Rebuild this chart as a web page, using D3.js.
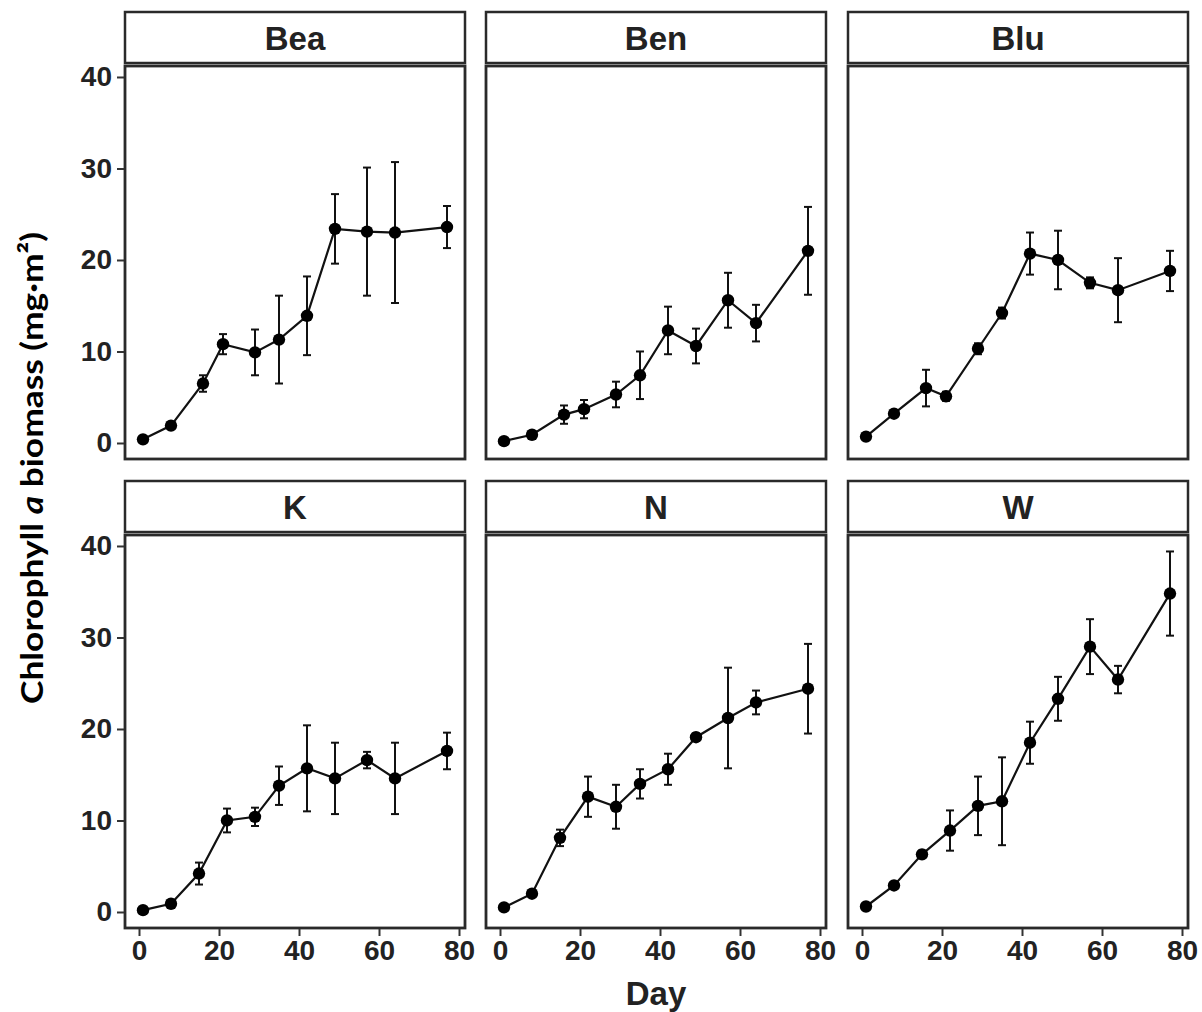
<!DOCTYPE html>
<html>
<head>
<meta charset="utf-8">
<script src="https://cdn.jsdelivr.net/npm/d3@7"></script>
<style>
	body { margin: 0; background: #fff; }
	svg { display: block; }
	.tick text { font-family: "Liberation Sans", Arial, sans-serif; font-weight: bold; font-size: 28px; fill: #222; }
	.tick line { stroke: #333; stroke-width: 2; }
</style>
</head>
<body>
<div id="chart"></div>
<script>
///////////////////////////////////////////////////////////////////////////
//////////////////////////// data /////////////////////////////////////////
///////////////////////////////////////////////////////////////////////////

const sites = ["Bea", "Ben", "Blu", "K", "N", "W"];

// sampling days (top row sites sampled day 16/21, bottom row day 15/22)
const daysTop = [1, 8, 16, 21, 29, 35, 42, 49, 57, 64, 77];
const daysBottom = [1, 8, 15, 22, 29, 35, 42, 49, 57, 64, 77];

// mean chlorophyll a (mg m-2)
const meanBea = [0.4, 1.9, 6.5, 10.8, 9.9, 11.3, 13.9, 23.4, 23.1, 23.0, 23.6];
const meanBen = [0.2, 0.9, 3.1, 3.7, 5.3, 7.4, 12.3, 10.6, 15.6, 13.1, 21.0];
const meanBlu = [0.7, 3.2, 6.0, 5.1, 10.3, 14.2, 20.7, 20.0, 17.5, 16.7, 18.8];
const meanK = [0.2, 0.9, 4.2, 10.0, 10.4, 13.8, 15.7, 14.6, 16.6, 14.6, 17.6];
const meanN = [0.5, 2.0, 8.1, 12.6, 11.5, 14.0, 15.6, 19.1, 21.2, 22.9, 24.4];
const meanW = [0.6, 2.9, 6.3, 8.9, 11.6, 12.1, 18.5, 23.3, 29.0, 25.4, 34.8];

// error bar half widths
const errBea = [0.2, 0.3, 0.9, 1.1, 2.5, 4.8, 4.3, 3.8, 7.0, 7.7, 2.3];
const errBen = [0.1, 0.2, 1.0, 1.0, 1.4, 2.6, 2.6, 1.9, 3.0, 2.0, 4.8];
const errBlu = [0.2, 0.3, 2.0, 0.5, 0.6, 0.6, 2.3, 3.2, 0.6, 3.5, 2.2];
const errK = [0.1, 0.2, 1.2, 1.3, 1.0, 2.1, 4.7, 3.9, 0.9, 3.9, 2.0];
const errN = [0.1, 0.2, 0.9, 2.2, 2.4, 1.6, 1.7, 0.4, 5.5, 1.3, 4.9];
const errW = [0.2, 0.3, 0.4, 2.2, 3.2, 4.8, 2.3, 2.4, 3.0, 1.5, 4.6];

const xTicks = [0, 20, 40, 60, 80];
const yTicks = [0, 10, 20, 30, 40];

const means = [meanBea, meanBen, meanBlu, meanK, meanN, meanW];
const errs = [errBea, errBen, errBlu, errK, errN, errW];

///////////////////////////////////////////////////////////////////////////
//////////////////////////// Set up svg ///////////////////////////////////
///////////////////////////////////////////////////////////////////////////

const width = 1202;
const height = 1012;
const svg = d3.select("#chart")
	.append("svg")
	.attr("width", width)
	.attr("height", height);

const colLeft = [125, 486, 848];
const panelW = 340;
const rows = [
	{ stripTop: 12, stripBottom: 63, top: 66, bottom: 459 },
	{ stripTop: 481, stripBottom: 532, top: 535, bottom: 928 }
];
const border = "#2a2a2a";

///////////////////////////////////////////////////////////////////////////
//////////////////////////// panels ///////////////////////////////////////
///////////////////////////////////////////////////////////////////////////

sites.forEach((site, i) => {
	const col = i % 3;
	const row = Math.floor(i / 3);
	const r = rows[row];
	const x0 = colLeft[col];
	const days = row === 0 ? daysTop : daysBottom;
	const data = days.map((d, j) => ({ day: d, mean: means[i][j], err: errs[i][j] }));

	const xScale = d3.scaleLinear().domain([-3.5, 81.5]).range([x0, x0 + panelW]);
	const yScale = d3.scaleLinear().domain([-1.75, 41.2]).range([r.bottom, r.top]);

	// strip
	svg.append("rect")
		.attr("x", x0).attr("y", r.stripTop)
		.attr("width", panelW).attr("height", r.stripBottom - r.stripTop)
		.attr("fill", "#fff").attr("stroke", border).attr("stroke-width", 2.5);
	svg.append("text")
		.attr("x", x0 + panelW / 2)
		.attr("y", (r.stripTop + r.stripBottom) / 2 + 12)
		.attr("text-anchor", "middle")
		.style("font-family", "'Liberation Sans', Arial, sans-serif")
		.style("font-weight", "bold")
		.style("font-size", "33px")
		.style("fill", "#222")
		.text(site);

	// panel box
	svg.append("rect")
		.attr("x", x0).attr("y", r.top)
		.attr("width", panelW).attr("height", r.bottom - r.top)
		.attr("fill", "#fff").attr("stroke", border).attr("stroke-width", 2.8);

	// error bars
	const g = svg.append("g");
	const bars = g.selectAll("g.err").data(data).enter().append("g").attr("class", "err");
	bars.append("line")
		.attr("x1", (d) => xScale(d.day)).attr("x2", (d) => xScale(d.day))
		.attr("y1", (d) => yScale(d.mean - d.err)).attr("y2", (d) => yScale(d.mean + d.err))
		.attr("stroke", "#111").attr("stroke-width", 2);
	[-1, 1].forEach((s) => {
		bars.append("line")
			.attr("x1", (d) => xScale(d.day) - 4).attr("x2", (d) => xScale(d.day) + 4)
			.attr("y1", (d) => yScale(d.mean + s * d.err)).attr("y2", (d) => yScale(d.mean + s * d.err))
			.attr("stroke", "#111").attr("stroke-width", 2);
	});

	// line
	const line = d3.line().x((d) => xScale(d.day)).y((d) => yScale(d.mean));
	g.append("path")
		.datum(data)
		.attr("d", line)
		.attr("fill", "none")
		.attr("stroke", "#111")
		.attr("stroke-width", 2.2);

	// dots
	g.selectAll("circle").data(data).enter().append("circle")
		.attr("cx", (d) => xScale(d.day))
		.attr("cy", (d) => yScale(d.mean))
		.attr("r", 6.2)
		.attr("fill", "#000");

	// axes
	if (col === 0) {
		svg.append("g")
			.attr("transform", `translate(${x0 - 1}, 0)`)
			.call(d3.axisLeft(yScale).tickValues(yTicks).tickSize(7).tickPadding(5))
			.call((a) => a.select(".domain").remove());
	}
	if (row === 1) {
		svg.append("g")
			.attr("transform", `translate(0, ${r.bottom + 1})`)
			.call(d3.axisBottom(xScale).tickValues(xTicks).tickSize(7).tickPadding(4))
			.call((a) => a.select(".domain").remove());
	}
});

///////////////////////////////////////////////////////////////////////////
//////////////////////////// titles ///////////////////////////////////////
///////////////////////////////////////////////////////////////////////////

svg.append("text")
	.attr("x", 656)
	.attr("y", 1005)
	.attr("text-anchor", "middle")
	.style("font-family", "'Liberation Sans', Arial, sans-serif")
	.style("font-weight", "bold")
	.style("font-size", "33px")
	.style("fill", "#222")
	.text("Day");

const yTitle = svg.append("text")
	.attr("transform", "translate(43, 468) rotate(-90)")
	.attr("text-anchor", "middle")
	.attr("textLength", 472)
	.attr("lengthAdjust", "spacingAndGlyphs")
	.style("font-family", "Lato, 'Open Sans', sans-serif")
	.style("font-weight", "bold")
	.style("font-size", "31px")
	.style("fill", "#000");
yTitle.append("tspan").text("Chlorophyll ");
yTitle.append("tspan").style("font-style", "italic").text("a");
yTitle.append("tspan").text(" biomass (mg·m²)");
</script>
</body>
</html>
